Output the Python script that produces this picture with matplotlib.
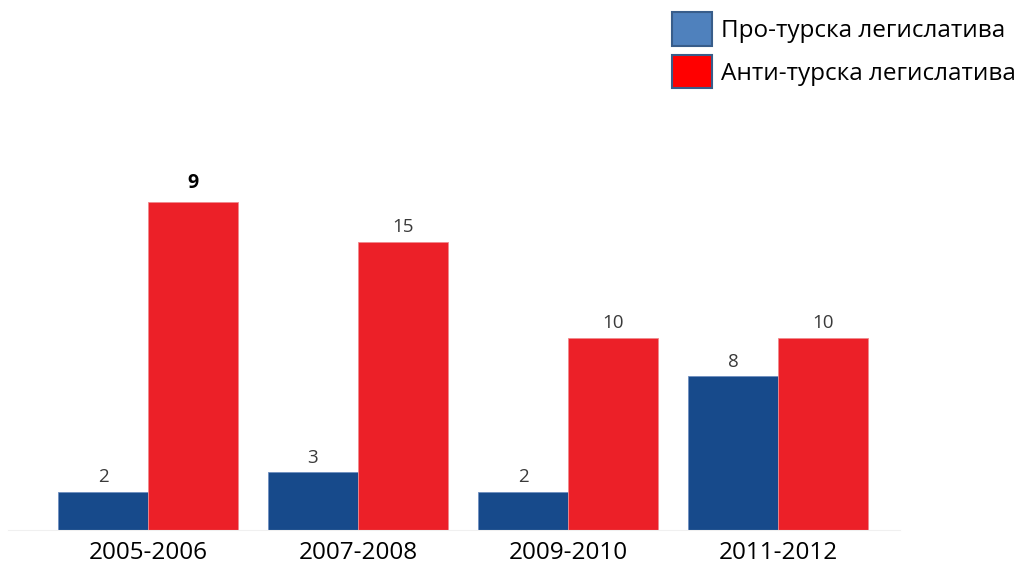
import matplotlib.pyplot as plt
from matplotlib.patches import Patch

periods = ['2005-2006', '2007-2008', '2009-2010', '2011-2012']
pro_vals = [2, 3, 2, 8]
anti_vals = [17.1, 15, 10, 10]
pro_labels = ['2', '3', '2', '8']
anti_labels = ['9', '15', '10', '10']
legend_names = ['Про-турска легислатива', 'Анти-турска легислатива']

W, H = 1029, 567
fig = plt.figure(figsize=(W / 100, H / 100), dpi=100)
# axes from x=8..900 px, y=190..530 px
ax = fig.add_axes([8 / W, (H - 530) / H, 892 / W, 340 / H])

bw = 90 / 210
x = list(range(len(periods)))
ax.bar([i - bw / 2 for i in x], pro_vals, width=bw, color='#174A8B',
       edgecolor='#6f8fc0', linewidth=0.6)
ax.bar([i + bw / 2 for i in x], anti_vals, width=bw, color='#EC2028',
       edgecolor='#f08a8e', linewidth=0.6)

for i in x:
    ax.text(i - bw / 2, pro_vals[i] + 0.3, pro_labels[i], ha='center',
            va='bottom', fontsize=13.5, color='#3a3a3a', family='Open Sans')
    if i == 0:
        ax.text(i + bw / 2, anti_vals[i] + 0.45, anti_labels[i], ha='center',
                va='bottom', fontsize=14, color='black', fontweight='bold',
                family='Open Sans')
    else:
        ax.text(i + bw / 2, anti_vals[i] + 0.3, anti_labels[i], ha='center',
                va='bottom', fontsize=13.5, color='#3a3a3a', family='Open Sans')

ax.set_xlim((8 - 148) / 210, (900 - 148) / 210)
ax.set_ylim(0, 340 / 19.2)
ax.set_xticks(x)
ax.set_xticklabels(periods, fontsize=17.5, family='Open Sans')
ax.tick_params(axis='x', length=0, pad=8)
ax.set_yticks([])
for s in ax.spines.values():
    s.set_visible(False)
ax.spines['bottom'].set_visible(True)
ax.spines['bottom'].set_color('#f0f0f0')

handles = [Patch(facecolor='#4F81BD', edgecolor='#385D8A', linewidth=1.5),
           Patch(facecolor='#FF0000', edgecolor='#385D8A', linewidth=1.5)]
fig.legend(handles, legend_names, loc='upper left',
           bbox_to_anchor=(672 / W, 1 - 12 / H), frameon=False,
           prop={'family': 'Open Sans', 'size': 17.5},
           handlelength=1.65, handleheight=1.75, handletextpad=0.35,
           labelspacing=0.38, borderpad=0.0, borderaxespad=0.0)

fig.savefig('out.png', dpi=100)
